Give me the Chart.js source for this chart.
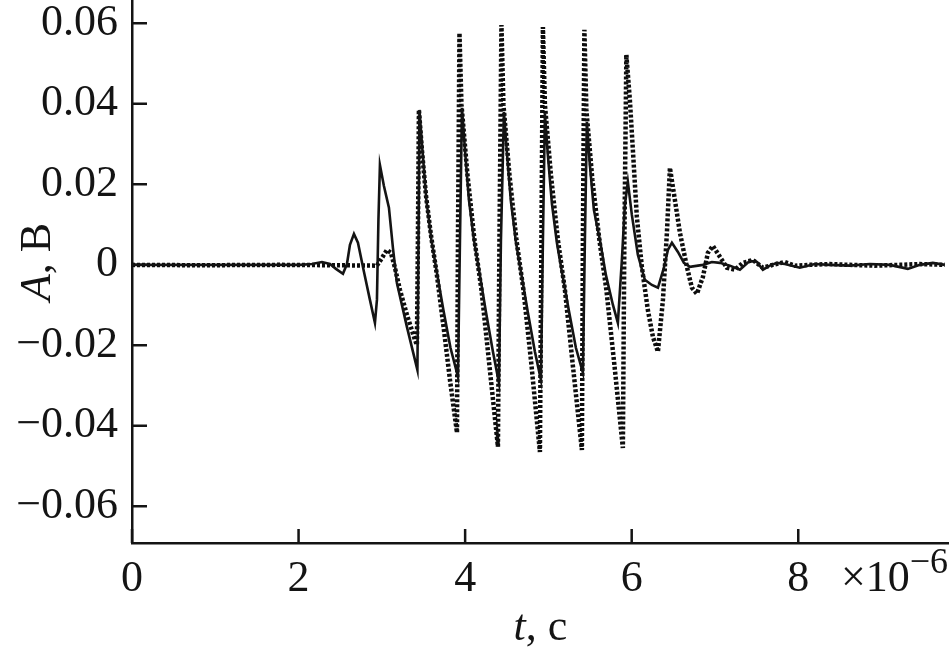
<!DOCTYPE html>
<html>
<head>
<meta charset="utf-8">
<script src="https://cdn.jsdelivr.net/npm/chart.js@4.4.1/dist/chart.umd.min.js"></script>
<style>
  html, body { margin: 0; padding: 0; background: #fff; }
  #wrap { width: 949px; height: 653px; position: relative; }
</style>
</head>
<body>
<div id="wrap"><canvas id="chart"></canvas></div>
<script>
// time in units of 1e-6 s, amplitude in volts
const solidT = [0, 2.017, 2.161, 2.281, 2.377, 2.449, 2.533, 2.581, 2.617, 2.665, 2.713, 2.785, 2.857, 2.917, 2.941, 2.959, 2.977,
  3.025, 3.085, 3.133, 3.181, 3.301, 3.427, 3.439, 3.451,
  3.487, 3.535, 3.595, 3.655, 3.739, 3.824, 3.914, 3.938, 3.962,
  3.998, 4.046, 4.106, 4.166, 4.250, 4.334, 4.406, 4.430, 4.466,
  4.502, 4.550, 4.610, 4.670, 4.754, 4.838, 4.910, 4.934, 4.958,
  4.994, 5.042, 5.102, 5.162, 5.246, 5.330, 5.414, 5.438, 5.462,
  5.498, 5.546, 5.618, 5.690, 5.774, 5.834, 5.882, 5.918, 5.954,
  6.002, 6.074, 6.158, 6.242, 6.315, 6.387, 6.435, 6.483, 6.555, 6.627, 6.699, 6.855,
  6.963, 7.059, 7.179, 7.299, 7.419, 7.503, 7.575, 7.659, 7.743, 7.839, 8.019, 8.199, 8.379,
  8.619, 8.860, 9.100, 9.316, 9.460, 9.616, 9.760];
const solidA = [0, 0, 0.0002, 0.0007, 0.0002, -0.001, -0.0022, 0.0002, 0.005, 0.0077, 0.0055, -0.0017, -0.0087, -0.0144, -0.0087, 0.0112, 0.0248,
  0.0196, 0.0142, 0.0042, -0.0045, -0.0154, -0.0261, 0.0037, 0.0385,
  0.0286, 0.0161, 0.0062, -0.0012, -0.0112, -0.0206, -0.0278, 0.0062, 0.039,
  0.0286, 0.0161, 0.0062, -0.0012, -0.0117, -0.0216, -0.0293, 0.0062, 0.038,
  0.0278, 0.0157, 0.0057, -0.0017, -0.0119, -0.0216, -0.0286, 0.0062, 0.0375,
  0.0271, 0.0152, 0.0055, -0.0017, -0.0114, -0.0206, -0.0268, 0.0062, 0.0355,
  0.0248, 0.0137, 0.0062, -0.0025, -0.0099, -0.0144, 0.0012, 0.0149, 0.0206,
  0.0124, 0.0025, -0.0037, -0.005, -0.0057, -0.0007, 0.0037, 0.0055, 0.0032, 0.0005, -0.0005, 0,
  0.0007, 0.0005, -0.0002, -0.0012, 0.001, 0.0007, -0.0012, -0.0002, 0.0005, 0.0002, -0.0007, 0.0002, 0,
  -0.0002, 0.0002, 0, -0.001, 0, 0.0005, 0];

const dottedT = [0, 0.816, 1.777, 2.497, 2.941, 3.001, 3.061, 3.109, 3.157, 3.217, 3.301, 3.397, 3.421, 3.433, 3.445,
  3.481, 3.529, 3.589, 3.661, 3.745, 3.818, 3.902, 3.914, 3.932,
  3.956, 4.028, 4.112, 4.196, 4.292, 4.394, 4.412, 4.436,
  4.460, 4.532, 4.616, 4.700, 4.796, 4.898, 4.916, 4.934,
  4.958, 5.030, 5.114, 5.198, 5.294, 5.402, 5.414, 5.432,
  5.456, 5.528, 5.612, 5.696, 5.792, 5.894, 5.912, 5.936,
  5.978, 6.014, 6.062, 6.122, 6.194, 6.255, 6.315, 6.375, 6.423, 6.459, 6.519, 6.579, 6.663, 6.723, 6.783,
  6.855, 6.915, 6.975, 7.059, 7.143, 7.239, 7.335, 7.455, 7.575, 7.695, 7.839, 7.959, 8.139, 8.379,
  8.619, 8.920, 9.220, 9.460, 9.760];
const dottedA = [0, -0.0001, 0, -0.0001, -0.0002, 0.0017, 0.0037, 0.003, -0.0007, -0.0062, -0.0124, -0.0186, -0.0199, 0.0062, 0.0385,
  0.0286, 0.0174, 0.0075, -0.0025, -0.0161, -0.0286, -0.0417, 0.0062, 0.0576,
  0.0398, 0.0224, 0.0062, -0.0062, -0.0251, -0.0452, 0.0062, 0.0596,
  0.0398, 0.0224, 0.0062, -0.0062, -0.0248, -0.0465, 0.0062, 0.0591,
  0.0398, 0.0224, 0.0062, -0.0062, -0.0251, -0.046, 0.0062, 0.0584,
  0.0385, 0.0211, 0.0062, -0.0062, -0.0248, -0.0455, 0.0062, 0.0522,
  0.041, 0.0286, 0.0119, -0.0005, -0.0112, -0.0179, -0.0216, -0.0087, 0.008, 0.0241, 0.0161, 0.008, -0.0005, -0.0057, -0.0072,
  -0.003, 0.003, 0.0047, 0.002, -0.0007, -0.0012, 0.0005, 0.0012, -0.0007, 0, 0.0007, -0.0002, 0, 0.0002,
  0, -0.0002, 0, 0.0002, 0];

const xTicks = [0, 2, 4, 6, 8];
const xTickLabels = ['0', '2', '4', '6', '8'];
const yTicks = [-0.06, -0.04, -0.02, 0, 0.02, 0.04, 0.06];
const yTickLabels = ['\u22120.06', '\u22120.04', '\u22120.02', '0', '0.02', '0.04', '0.06'];

const serif = "'Liberation Serif', 'DejaVu Serif', serif";
const ink = '#141414';

const toPoints = (ts, as) => ts.map((t, i) => ({ x: t, y: as[i] }));

// ticks point inwards, so they are drawn here instead of by the grid
const innerTicks = {
  id: 'innerTicks',
  afterDatasetsDraw(chart) {
    const { ctx, chartArea, scales } = chart;
    ctx.save();
    ctx.strokeStyle = ink;
    ctx.lineWidth = 2.5;
    ctx.beginPath();
    xTicks.forEach(v => {
      const px = scales.x.getPixelForValue(v);
      ctx.moveTo(px, chartArea.bottom);
      ctx.lineTo(px, chartArea.bottom - 14);
    });
    yTicks.forEach(v => {
      const py = scales.y.getPixelForValue(v);
      ctx.moveTo(chartArea.left, py);
      ctx.lineTo(chartArea.left + 15, py);
    });
    ctx.stroke();
    ctx.restore();
  }
};

function drawRuns(ctx, runs, x, y) {
  let total = 0;
  runs.forEach(r => { ctx.font = r.font; total += ctx.measureText(r.text).width; });
  let cx = x - total / 2;
  runs.forEach(r => {
    ctx.font = r.font;
    ctx.fillText(r.text, cx, y);
    cx += ctx.measureText(r.text).width;
  });
}

const axisTitles = {
  id: 'axisTitles',
  afterDraw(chart) {
    const { ctx, chartArea } = chart;
    ctx.save();
    ctx.fillStyle = ink;
    ctx.textBaseline = 'alphabetic';
    ctx.textAlign = 'left';
    // x title
    drawRuns(ctx, [
      { text: 't', font: 'italic 44px ' + serif },
      { text: ', \u0441', font: '44px ' + serif }
    ], (chartArea.left + chartArea.right) / 2, 640);
    // multiplier, right aligned to the edge
    ctx.font = '44px ' + serif;
    const w1 = ctx.measureText('\u00d710').width;
    ctx.font = '36px ' + serif;
    const w2 = ctx.measureText('\u22126').width;
    const x0 = 948 - w1 - w2;
    ctx.font = '44px ' + serif;
    ctx.fillText('\u00d710', x0, 591);
    ctx.font = '36px ' + serif;
    ctx.fillText('\u22126', x0 + w1, 573);
    // y title
    ctx.translate(50, 262);
    ctx.rotate(-Math.PI / 2);
    drawRuns(ctx, [
      { text: 'A', font: 'italic 44px ' + serif },
      { text: ', \u0412', font: '44px ' + serif }
    ], 0, 0);
    ctx.restore();
  }
};

new Chart(document.getElementById('chart'), {
  type: 'line',
  data: {
    datasets: [
      {
        label: 'solid',
        data: toPoints(solidT, solidA),
        borderColor: ink,
        borderWidth: 2.6,
        pointRadius: 0,
        tension: 0
      },
      {
        label: 'dotted',
        data: toPoints(dottedT, dottedA),
        borderColor: '#0d0d0d',
        borderWidth: 4.5,
        borderDash: [3, 2],
        pointRadius: 0,
        tension: 0
      }
    ]
  },
  options: {
    responsive: true,
    maintainAspectRatio: false,
    animation: false,
    layout: { padding: 0 },
    plugins: { legend: { display: false }, tooltip: { enabled: false } },
    scales: {
      x: {
        type: 'linear',
        min: 0,
        max: 9.81,
        grid: { display: false, drawTicks: false },
        border: { display: true, color: ink, width: 2.5 },
        afterBuildTicks: s => { s.ticks = xTicks.map(v => ({ value: v })); },
        afterFit: s => { s.height = 110; s.paddingLeft = 0; s.paddingRight = 0; },
        ticks: {
          color: ink,
          padding: 10,
          maxRotation: 0,
          font: { family: serif, size: 44 },
          callback: (v, i) => xTickLabels[i]
        }
      },
      y: {
        type: 'linear',
        min: -0.0691,
        max: 0.0658,
        grid: { display: false, drawTicks: false },
        border: { display: true, color: ink, width: 2.5 },
        afterBuildTicks: s => { s.ticks = yTicks.map(v => ({ value: v })); },
        afterFit: s => { s.width = 132; s.paddingTop = 0; s.paddingBottom = 0; },
        ticks: {
          color: ink,
          padding: 14,
          font: { family: serif, size: 44 },
          callback: (v, i) => yTickLabels[i]
        }
      }
    }
  },
  plugins: [innerTicks, axisTitles]
});
</script>
</body>
</html>
